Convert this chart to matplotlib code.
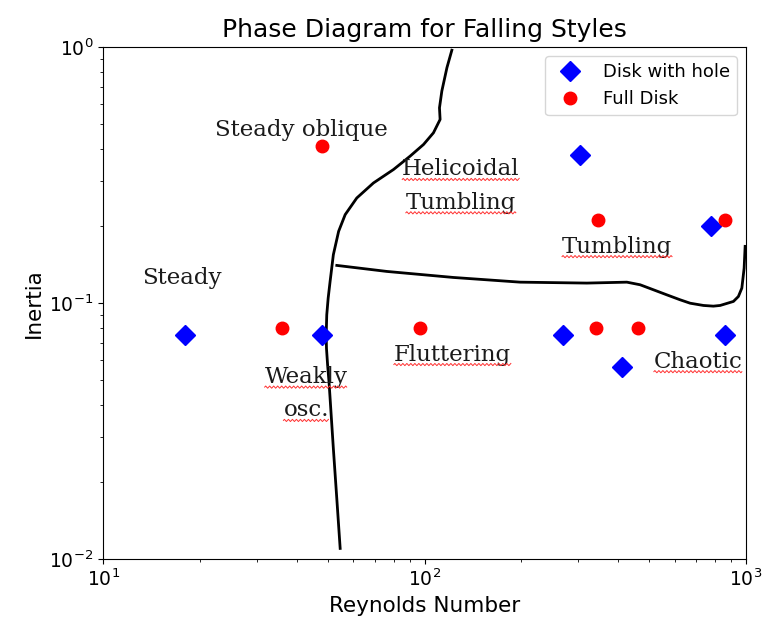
import matplotlib
matplotlib.use("Agg")
import matplotlib.pyplot as plt
import numpy as np
from matplotlib.lines import Line2D
from matplotlib.transforms import IdentityTransform

# Disk with hole measurements
hole_re = [18, 48, 270, 305, 410, 780, 860]
hole_inertia = [0.075, 0.075, 0.075, 0.38, 0.056, 0.20, 0.075]

# Full disk measurements
full_re = [48, 36, 97, 345, 340, 460, 860]
full_inertia = [0.41, 0.08, 0.08, 0.21, 0.08, 0.08, 0.21]

# boundary: steady / oscillating regimes
b1_re = [54.6, 53.3, 52.0, 50.8, 50.4, 49.9, 49.5, 49.4, 49.6, 50.1, 50.8,
         51.1, 52.0, 54.0, 56.6, 61.5, 69.3, 80.0, 90.1, 99.2, 106.5, 111.7,
         111.2, 113.1, 117.3, 121.5]
b1_inertia = [0.011, 0.0172, 0.027, 0.0424, 0.0493, 0.0573, 0.0665, 0.0753,
              0.0899, 0.1044, 0.1214, 0.1289, 0.1544, 0.1905, 0.2214, 0.2571,
              0.2943, 0.3321, 0.3745, 0.416, 0.462, 0.521, 0.5785, 0.6727,
              0.83, 0.971]

# boundary: fluttering / tumbling
b2_re = [53.3, 76.3, 122.9, 198.2, 319.6, 425.6, 468.0, 514.9, 566.6, 623.4,
         669.7, 736.7, 791.0, 830.2, 913.0, 946.0, 969.7, 985.8, 992.9]
b2_inertia = [0.1402, 0.1328, 0.1258, 0.1206, 0.1196, 0.1206, 0.1178, 0.1126,
              0.1076, 0.1029, 0.0998, 0.0978, 0.0972, 0.0978, 0.1014, 0.106,
              0.1143, 0.1368, 0.1664]

# regime labels: (text lines, Re, inertia, spell-check underline)
regimes = [
    (["Steady"], 17.6, 0.125, False),
    (["Steady oblique"], 41.3, 0.473, False),
    (["Helicoidal", "Tumbling"], 129.7, 0.286, True),
    (["Tumbling"], 397, 0.166, True),
    (["Fluttering"], 122, 0.0629, True),
    (["Weakly", "osc."], 42.8, 0.0442, True),
    (["Chaotic"], 710, 0.059, True),
]

fig = plt.figure(figsize=(7.7, 6.26), dpi=100)
ax = fig.add_axes([0.134, 0.107, 0.835, 0.818])

ax.plot(b1_re, b1_inertia, color="black", lw=2)
ax.plot(b2_re, b2_inertia, color="black", lw=2)
ax.plot(hole_re, hole_inertia, "D", color="blue", ms=10, ls="none", label="Disk with hole")
ax.plot(full_re, full_inertia, "o", color="red", ms=9, ls="none", label="Full Disk")

ax.set_xscale("log")
ax.set_yscale("log")
ax.set_xlim(10, 1000)
ax.set_ylim(0.01, 1)
ax.tick_params(labelsize=13.5)
ax.set_xlabel("Reynolds Number", fontsize=15.5)
ax.set_ylabel("Inertia", fontsize=15.5)
ax.set_title("Phase Diagram for Falling Styles", fontsize=18, pad=7)
ax.legend(loc="upper right", fontsize=13)

texts = []
line_h = 24
for lines, x, y, wavy in regimes:
    n = len(lines)
    for i, line in enumerate(lines):
        dy = ((n - 1) / 2 - i) * line_h
        t = ax.annotate(line, (x, y), xytext=(0, dy), textcoords="offset points",
                        ha="center", va="center", fontsize=16.5,
                        family="DejaVu Serif", color="#1a1a1a")
        if wavy:
            texts.append(t)

# red squiggle under each word, sized from the rendered text
fig.canvas.draw()
renderer = fig.canvas.get_renderer()
for t in texts:
    bb = t.get_window_extent(renderer)
    xs = np.arange(bb.x0, bb.x1, 1.0)
    ys = bb.y0 + 1 + 1.1 * np.sin((xs - bb.x0) * np.pi / 2)
    fig.add_artist(Line2D(xs, ys, transform=IdentityTransform(),
                          color="#ff3030", lw=0.7))

fig.savefig("out.png", dpi=100)
